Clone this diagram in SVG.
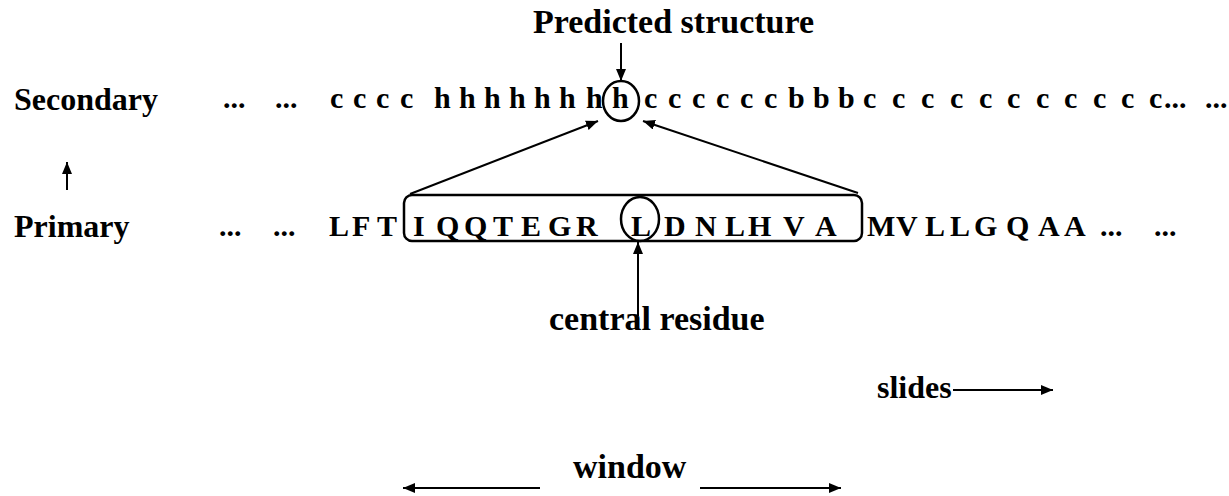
<svg xmlns="http://www.w3.org/2000/svg" width="1229" height="496" viewBox="0 0 1229 496">
  <style>
    text { font-family: "Liberation Serif", "Times New Roman", serif; font-weight: bold; font-size: 32px; fill: #000; }
    .seq { font-size: 30px; }
    .big { font-size: 34px; }
    .ln { stroke: #000; stroke-width: 2; fill: none; }
    .box { stroke: #000; stroke-width: 2.5; fill: none; }
  </style>
  <defs>
    <marker id="head" viewBox="0 0 12 10" refX="12" refY="5" markerWidth="6" markerHeight="5" orient="auto-start-reverse" markerUnits="strokeWidth">
      <path d="M0,0 L12,5 L0,10 Z" fill="#000"/>
    </marker>
  </defs>

  <!-- title over the predicted residue -->
  <g id="predicted-label">
    <text class="big" x="533" y="33">Predicted structure</text>
  </g>

  <!-- secondary structure row -->
  <g id="secondary">
    <text x="14" y="110">Secondary</text>
    <text class="seq" x="223" y="108">...</text>
    <text class="seq" x="275" y="108">...</text>
    <text class="seq" x="330 353 376 400 434 459 484 509 534 559 586 612 644 668 692 716 740 764 788 813 838 863 892 921 950 979 1007 1036 1064 1093 1121 1149" y="108">cccchhhhhhhhccccccbbbccccccccccc</text>
    <text class="seq" x="1164" y="108">...</text>
    <text class="seq" x="1205" y="108">...</text>
    <ellipse cx="621" cy="101" rx="18" ry="20" class="box"/>
  </g>

  <!-- primary sequence row -->
  <g id="primary">
    <text x="14" y="237">Primary</text>
    <text class="seq" x="219" y="236">...</text>
    <text class="seq" x="273" y="236">...</text>
    <text class="seq" x="329 352 377 413 436 464 493 521 548 576 631 664 695 725 748 783 815 867 896 925 950 974 1006 1038 1064" y="236">LFTIQQTEGRLDNLHVAMVLLGQAA</text>
    <text class="seq" x="1100" y="236">...</text>
    <text class="seq" x="1154" y="236">...</text>
  </g>

  <!-- sliding window over the primary sequence -->
  <g id="window-box">
    <rect x="404" y="195" width="458" height="46" rx="8" class="box"/>
    <ellipse cx="640" cy="219" rx="19" ry="22" class="box"/>
  </g>

  <g id="central-label">
    <text class="big" x="549" y="330">central residue</text>
  </g>

  <g id="slides-label">
    <text x="877" y="398">slides</text>
  </g>

  <g id="window-label">
    <text class="big" x="573" y="478">window</text>
  </g>

  <!-- connectors -->
  <g id="connectors">
    <line x1="621" y1="43" x2="621" y2="81" class="ln" marker-end="url(#head)"/>
    <line x1="67" y1="190" x2="67" y2="162" class="ln" marker-end="url(#head)"/>
    <line x1="410" y1="194" x2="598" y2="121" class="ln" marker-end="url(#head)"/>
    <line x1="858" y1="193" x2="643" y2="121" class="ln" marker-end="url(#head)"/>
    <line x1="638" y1="316" x2="638" y2="242" class="ln" marker-end="url(#head)"/>
    <line x1="953" y1="390" x2="1053" y2="390" class="ln" marker-end="url(#head)"/>
    <line x1="540" y1="488" x2="403" y2="488" class="ln" marker-end="url(#head)"/>
    <line x1="700" y1="488" x2="841" y2="488" class="ln" marker-end="url(#head)"/>
  </g>
</svg>
